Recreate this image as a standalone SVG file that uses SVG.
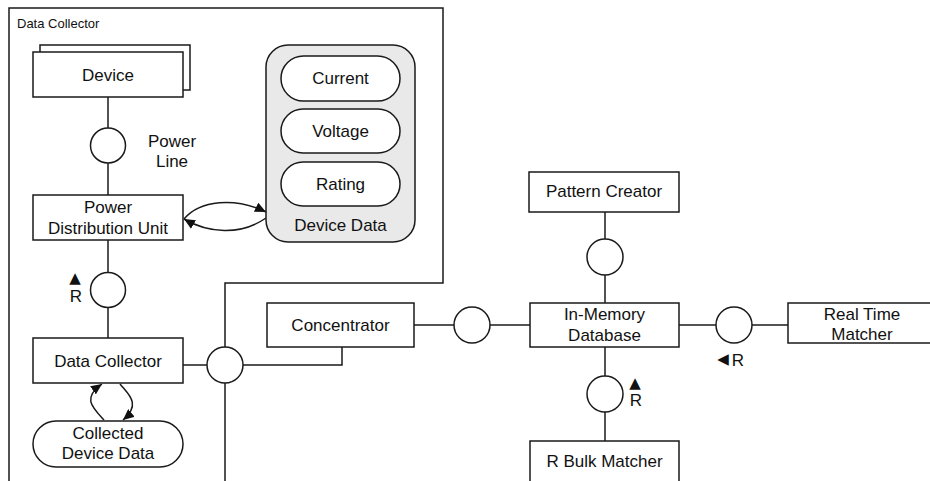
<svg xmlns="http://www.w3.org/2000/svg" width="930" height="481" viewBox="0 0 930 481">
<defs>
<style>
.box{fill:#fff;stroke:#1a1a1a;stroke-width:1.5}
.ln{fill:none;stroke:#1a1a1a;stroke-width:1.5}
.t{font-family:"Liberation Sans",Arial,sans-serif;font-size:17px;fill:#111;text-anchor:middle}
.sym{font-family:"DejaVu Sans",sans-serif;font-size:15px;fill:#111;text-anchor:middle}
.small{font-family:"Liberation Sans",Arial,sans-serif;font-size:13px;fill:#111}
</style>
<marker id="ah" markerWidth="12" markerHeight="10" refX="11" refY="5" orient="auto" markerUnits="userSpaceOnUse">
<path d="M0,0 L11,5 L0,10 z" fill="#111"/>
</marker>
</defs>
<rect width="930" height="481" fill="#fff"/>

<g id="frame">
<path class="ln" d="M9,481 V8 H443 V283 H225 V347" stroke-width="1.3"/>
<text class="small" x="17" y="28">Data Collector</text>
</g>

<g id="connectors">
<line class="ln" x1="108" y1="97" x2="108" y2="128"/>
<line class="ln" x1="108" y1="163" x2="108" y2="195"/>
<line class="ln" x1="108" y1="240" x2="108" y2="272"/>
<line class="ln" x1="108" y1="308" x2="108" y2="338"/>
<line class="ln" x1="183" y1="365" x2="207" y2="365"/>
<path class="ln" d="M243,365 H342 V347"/>
<line class="ln" x1="225" y1="383" x2="225" y2="481"/>
<line class="ln" x1="414" y1="325" x2="454" y2="325"/>
<line class="ln" x1="490" y1="325" x2="530" y2="325"/>
<line class="ln" x1="605" y1="212" x2="605" y2="239"/>
<line class="ln" x1="605" y1="275" x2="605" y2="303"/>
<line class="ln" x1="605" y1="347" x2="605" y2="376"/>
<line class="ln" x1="605" y1="412" x2="605" y2="441"/>
<line class="ln" x1="679" y1="325" x2="716" y2="325"/>
<line class="ln" x1="752" y1="325" x2="788" y2="325"/>
<path class="ln" d="M184,219 C200,200 235,197 266,212" marker-end="url(#ah)"/>
<path class="ln" d="M266,218 C240,236 208,233 184,219" marker-end="url(#ah)"/>
<path class="ln" d="M104,420 C92,407 82,398 102,384" marker-end="url(#ah)"/>
<path class="ln" d="M120,384 C128,394 142,404 123,420" marker-end="url(#ah)"/>
</g>

<g id="device">
<rect class="box" x="40" y="45" width="150" height="45"/>
<rect class="box" x="33" y="52" width="150" height="45"/>
<text class="t" x="108" y="81">Device</text>
</g>

<g id="power-line">
<circle class="box" cx="108" cy="145.5" r="17.5"/>
<text class="t" x="172" y="147">Power</text>
<text class="t" x="172" y="167">Line</text>
</g>

<g id="pdu">
<rect class="box" x="33" y="195" width="150" height="45"/>
<text class="t" x="108" y="213">Power</text>
<text class="t" x="108" y="234">Distribution Unit</text>
</g>

<g id="pdu-interface">
<circle class="box" cx="108" cy="290" r="17.5"/>
<text class="sym" x="75" y="283">▲</text>
<text class="t" x="76" y="302">R</text>
</g>

<g id="data-collector">
<rect class="box" x="33" y="338" width="150" height="45"/>
<text class="t" x="108" y="367">Data Collector</text>
</g>

<g id="collected-device-data">
<rect class="box" x="33" y="421" width="150" height="46" rx="23"/>
<text class="t" x="108" y="439">Collected</text>
<text class="t" x="108" y="459">Device Data</text>
</g>

<g id="device-data">
<rect x="266" y="45" width="149" height="197" rx="22" fill="#e9e9e9" stroke="#1a1a1a" stroke-width="1.5"/>
<rect class="box" x="281" y="56" width="119" height="45" rx="22.5"/>
<text class="t" x="340.5" y="84">Current</text>
<rect class="box" x="281" y="109" width="119" height="44" rx="22"/>
<text class="t" x="340.5" y="137">Voltage</text>
<rect class="box" x="281" y="162" width="119" height="44" rx="22"/>
<text class="t" x="340.5" y="190">Rating</text>
<text class="t" x="340.5" y="231">Device Data</text>
</g>

<g id="junction">
<circle class="box" cx="225" cy="365" r="18"/>
</g>

<g id="concentrator">
<rect class="box" x="267" y="303" width="147" height="44"/>
<text class="t" x="340.5" y="331">Concentrator</text>
</g>

<g id="concentrator-interface">
<circle class="box" cx="472" cy="325" r="18"/>
</g>

<g id="in-memory-database">
<rect class="box" x="530" y="303" width="149" height="44"/>
<text class="t" x="604.5" y="320">In-Memory</text>
<text class="t" x="604.5" y="341">Database</text>
</g>

<g id="pattern-creator">
<rect class="box" x="529" y="172" width="150" height="40"/>
<text class="t" x="604" y="197">Pattern Creator</text>
</g>

<g id="pattern-interface">
<circle class="box" cx="605" cy="257" r="18"/>
</g>

<g id="bulk-interface">
<circle class="box" cx="605" cy="394" r="18"/>
<text class="sym" x="635" y="388">▲</text>
<text class="t" x="636" y="406">R</text>
</g>

<g id="r-bulk-matcher">
<path class="box" d="M530,482 V441 H679 V482"/>
<text class="t" x="604.5" y="467">R Bulk Matcher</text>
</g>

<g id="realtime-interface">
<circle class="box" cx="734" cy="325" r="18"/>
<text class="sym" x="723" y="364">◀</text>
<text class="t" x="738" y="366">R</text>
</g>

<g id="real-time-matcher">
<rect class="box" x="788" y="303" width="149" height="40"/>
<text class="t" x="862" y="320">Real Time</text>
<text class="t" x="862" y="340">Matcher</text>
</g>
</svg>
